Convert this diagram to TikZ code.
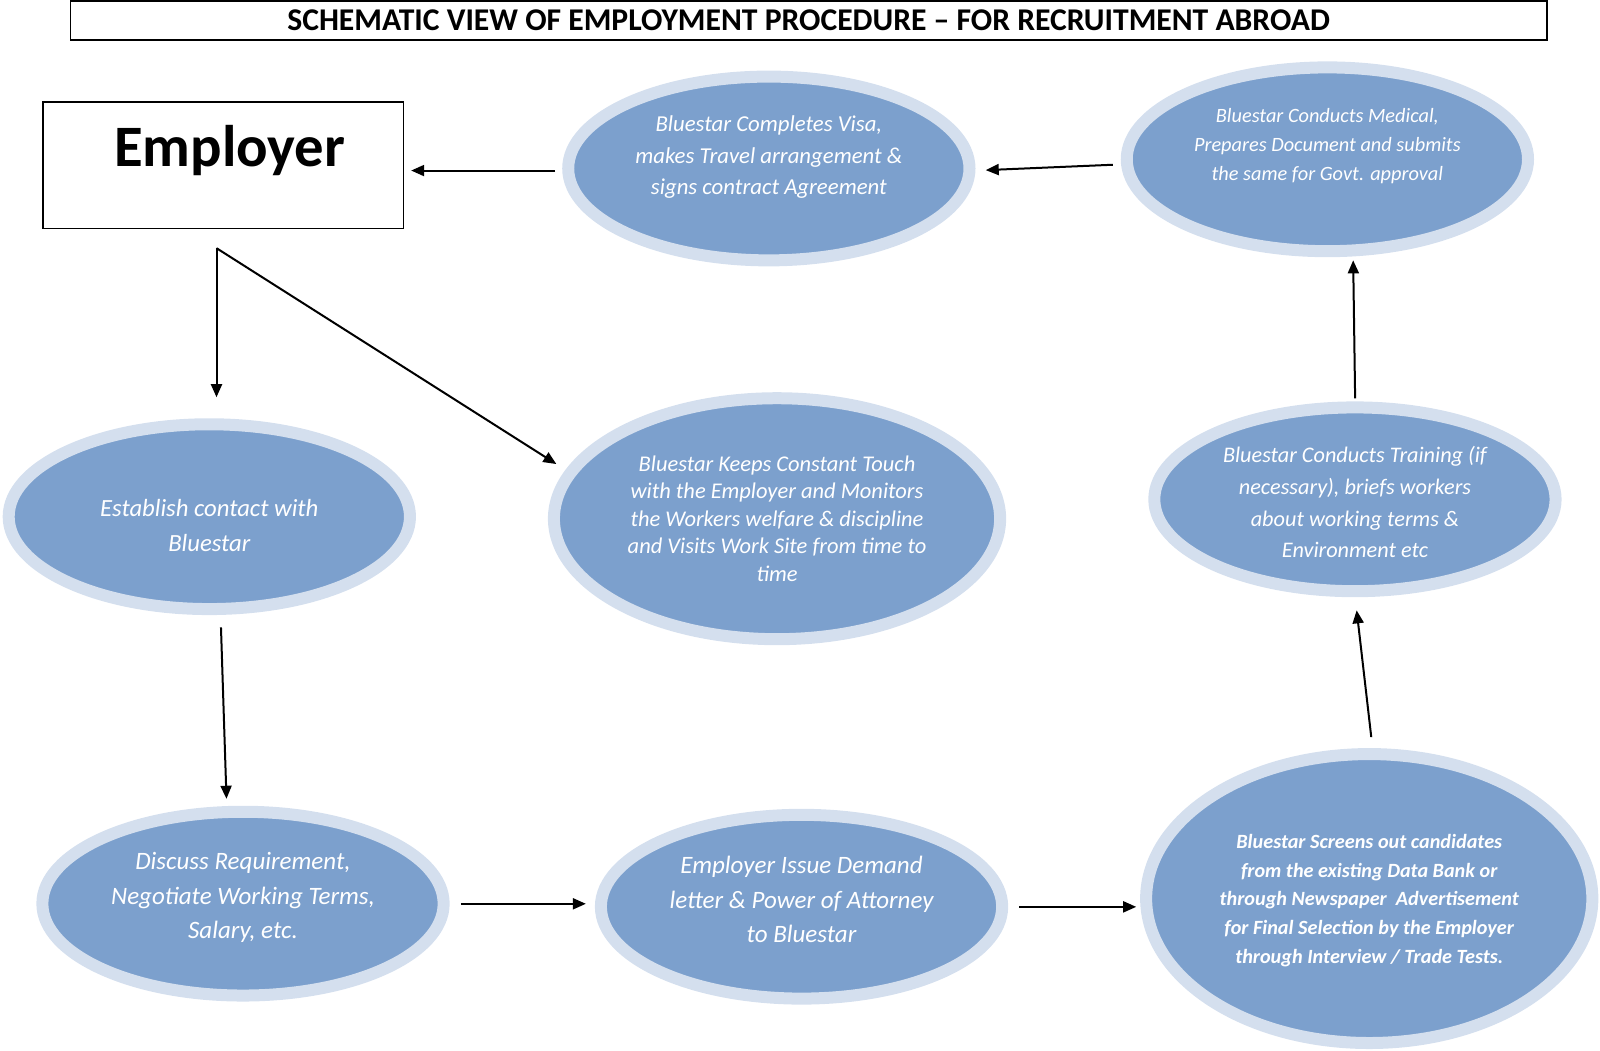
\documentclass[tikz,border=0pt]{standalone}
\usepackage{fontspec}
\setmainfont{Carlito}
\usetikzlibrary{shapes.geometric,arrows.meta}
\definecolor{fillc}{RGB}{124,160,205}
\definecolor{ringc}{RGB}{212,223,238}
\tikzset{
  bubble/.style={ellipse,draw=ringc,fill=fillc,line width=12pt,inner sep=0pt,
    minimum width=393pt,minimum height=180pt},
  bigbubble/.style={bubble,minimum width=437pt,minimum height=236pt},
  txt/.style={text=white,align=center,font=\itshape,inner sep=0pt},
  conn/.style={line width=2pt,-{Triangle[length=13pt,width=11pt]}},
}
\begin{document}
\begin{tikzpicture}[x=1pt,y=-1pt,scale=1.02106,transform shape]
\useasboundingbox (0,0) rectangle (1567,1029.3);
% title
\node[draw,line width=1.5pt,minimum width=1446pt,minimum height=38pt,inner sep=0pt,
  font=\bfseries\fontsize{31}{34}\selectfont] (title) at (792,20)
  {SCHEMATIC VIEW OF EMPLOYMENT PROCEDURE – FOR RECRUITMENT ABROAD};
% employer box
\node[draw,line width=1.5pt,minimum width=353pt,minimum height=124pt,inner sep=0pt] (emp) at (218.5,162) {};
\node[font=\bfseries\fontsize{57.5}{60}\selectfont,inner sep=0pt] (emptxt) at (225,147) {Employer};
% bubbles
\node[bubble] (visa) at (753,165) {};
\node[txt,font=\itshape\fontsize{22.3}{31}\selectfont] (visat) at (753,154)
  {Bluestar Completes Visa,\\makes Travel arrangement \&\\signs contract Agreement};
\node[bubble] (med) at (1300,156) {};
\node[txt,font=\itshape\fontsize{19.9}{28}\selectfont] (medt) at (1300,143)
  {Bluestar Conducts Medical,\\Prepares Document and submits\\the same for Govt. approval};
\node[bubble,minimum height=181pt] (est) at (205,506) {};
\node[txt,font=\itshape\fontsize{24.2}{34}\selectfont] (estt) at (205,515)
  {Establish contact with\\Bluestar};
\node[bigbubble] (keep) at (761,508) {};
\node[txt,font=\itshape\fontsize{22}{27}\selectfont] (keept) at (761,508)
  {Bluestar Keeps Constant Touch\\with the Employer and Monitors\\the Workers welfare \& discipline\\and Visits Work Site from time to\\time};
\node[bubble] (train) at (1327,489) {};
\node[txt,font=\itshape\fontsize{21.8}{31}\selectfont] (traint) at (1327,492)
  {Bluestar Conducts Training (if\\necessary), briefs workers\\about working terms \&\\Environment etc};
\node[bubble] (disc) at (238,885) {};
\node[txt,font=\itshape\fontsize{24.5}{34}\selectfont] (disct) at (238,879)
  {Discuss Requirement,\\Negotiate Working Terms,\\Salary, etc.};
\node[bubble] (dem) at (785,888) {};
\node[txt,font=\itshape\fontsize{24.5}{34}\selectfont] (demt) at (785,881)
  {Employer Issue Demand\\letter \& Power of Attorney\\to Bluestar};
\node[bigbubble,minimum height=283pt] (scr) at (1341,880) {};
\node[txt,font=\bfseries\itshape\fontsize{19.8}{28}\selectfont] (scrt) at (1341,882)
  {Bluestar Screens out candidates\\from the existing Data Bank or\\through Newspaper\ \ Advertisement\\for Final Selection by the Employer\\through Interview / Trade Tests.};
% connectors
\coordinate (split) at (212,243);
\draw[conn,shorten <=7pt,shorten >=7pt] ([yshift=-2pt]visa.west) -- ([yshift=-2pt]visa.west -| emp.east);
\draw[conn,shorten <=8pt,shorten >=10pt] ([yshift=-5pt]med.west) -- ([yshift=-2pt]visa.east);
\draw[conn,shorten >=21pt] (split) -- (split |- est.north);
\draw[conn,shorten >=11pt] (split) -- (keep.167);
\draw[conn,shorten <=12pt,shorten >=7pt] ([xshift=11pt]est.south) -- ([xshift=-16pt]disc.north);
\draw[conn,shorten <=11pt,shorten >=9pt] (disc.east) -- (disc.east -| dem.west);
\draw[conn,shorten <=11pt,shorten >=4pt] (dem.east) -- (dem.east -| scr.west);
\draw[conn,shorten <=11pt,shorten >=13pt] ([xshift=3pt]scr.north) -- (train.south);
\draw[conn,shorten <=3pt,shorten >=3pt] (train.north) -- ([xshift=25pt]med.south);
\end{tikzpicture}
\end{document}
